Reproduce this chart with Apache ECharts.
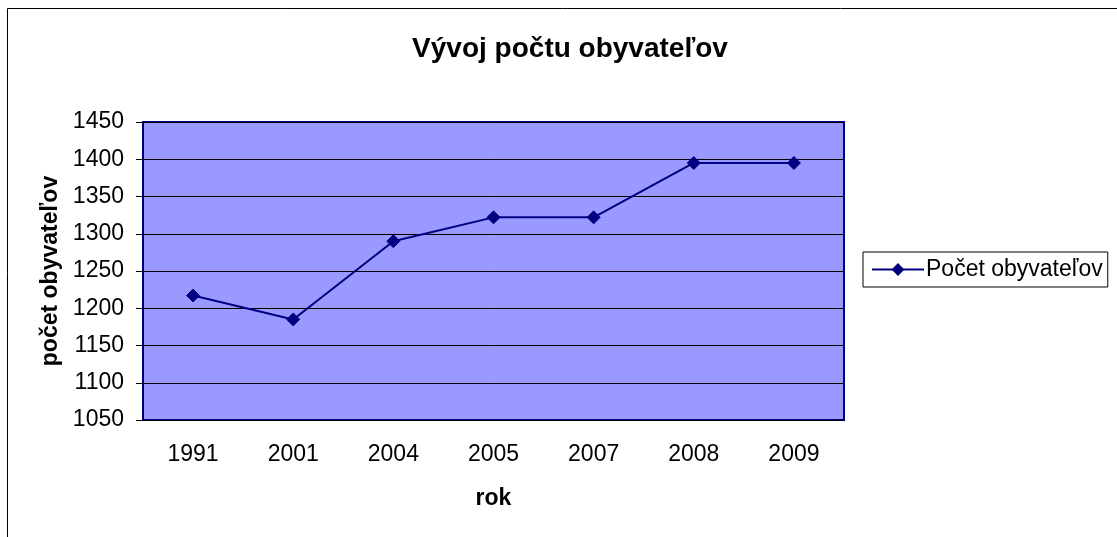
<!DOCTYPE html>
<html>
<head>
<meta charset="utf-8">
<script src="https://cdn.jsdelivr.net/npm/echarts@6/dist/echarts.min.js"></script>
<style>
  * { margin: 0; padding: 0; }
  html, body { background: #fff; }
</style>
</head>
<body>
<div id="main" style="width: 1117px; height: 537px;"></div>
<script>
  // data
  var years = ['1991', '2001', '2004', '2005', '2007', '2008', '2009']
  var population = [1217, 1185, 1290, 1322, 1322, 1395, 1395]
  var seriesName = 'Počet obyvateľov'

  var font = 'Arial, "Liberation Sans", sans-serif'
  var navy = '#000080'

  var chart = echarts.init(document.getElementById('main'))
  chart.setOption({
    animation: false,
    backgroundColor: '#fff',
    title: {
      text: 'Vývoj počtu obyvateľov',
      left: 565,
      top: 30,
      textAlign: 'center',
      textStyle: { fontFamily: font, fontSize: 28, fontWeight: 'bold', color: '#000' }
    },
    graphic: [{
      type: 'rect',
      shape: { x: 7.5, y: 8.5, width: 1200, height: 700 },
      style: { fill: 'none', stroke: '#000', lineWidth: 1 },
      silent: true
    }],
    legend: {
      data: [seriesName],
      left: 863,
      top: 252,
      orient: 'vertical',
      padding: [6, 5, 6, 8],
      borderColor: '#000',
      borderWidth: 1,
      borderRadius: 0,
      itemWidth: 52,
      itemHeight: 16,
      itemGap: 0,
      textStyle: { fontFamily: font, fontSize: 23, color: '#000', padding: [0, 0, 0, -3] }
    },
    grid: {
      left: 143,
      top: 122,
      width: 701,
      height: 298,
      show: true,
      backgroundColor: '#9999FF',
      borderColor: navy,
      borderWidth: 2
    },
    xAxis: {
      type: 'category',
      data: years,
      name: 'rok',
      nameLocation: 'middle',
      nameGap: 67,
      nameTextStyle: { fontFamily: font, fontSize: 23, fontWeight: 'bold', color: '#000' },
      axisLine: { lineStyle: { color: '#000', width: 1 } },
      axisTick: { length: 7, lineStyle: { color: '#000' } },
      axisLabel: { fontFamily: font, fontSize: 23, color: '#000', margin: 23 },
      splitLine: { show: false }
    },
    yAxis: {
      type: 'value',
      min: 1050,
      max: 1450,
      interval: 50,
      name: 'počet obyvateľov',
      nameLocation: 'middle',
      nameGap: 81,
      nameTextStyle: { fontFamily: font, fontSize: 23, fontWeight: 'bold', color: '#000' },
      axisLine: { show: true, lineStyle: { color: '#000', width: 1 } },
      axisTick: { show: true, length: 7, lineStyle: { color: '#000' } },
      axisLabel: { fontFamily: font, fontSize: 23, color: '#000', margin: 19, formatter: function (v) { return String(v) } },
      splitLine: { show: true, lineStyle: { color: '#000', width: 1 } }
    },
    series: [{
      name: seriesName,
      type: 'line',
      data: population,
      symbol: 'diamond',
      symbolSize: 13,
      lineStyle: { color: navy, width: 2 },
      itemStyle: { color: navy, borderColor: navy }
    }]
  })
</script>
</body>
</html>
